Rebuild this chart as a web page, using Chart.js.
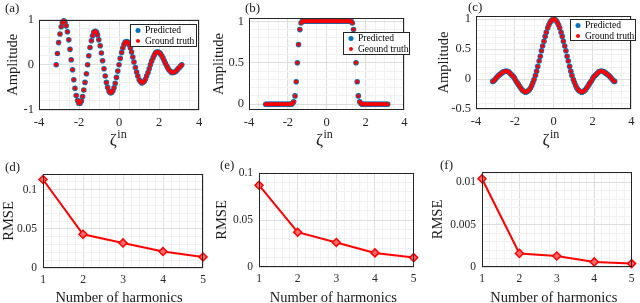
<!DOCTYPE html>
<html>
<head>
<meta charset="utf-8">
<title>Predicted vs ground truth, RMSE vs harmonics</title>
<script src="https://cdn.jsdelivr.net/npm/chart.js"></script>
<style>
  body { margin: 0; background: #fff; }
  #fig { position: relative; width: 640px; height: 303px; overflow: hidden; }
  #fig canvas { position: absolute; }
</style>
</head>
<body>
<div id="fig">
  <canvas id="pa"></canvas>
  <canvas id="pb"></canvas>
  <canvas id="pc"></canvas>
  <canvas id="pd"></canvas>
  <canvas id="pe"></canvas>
  <canvas id="pf"></canvas>
</div>
<script>
// sample positions on the zeta axis (shared by the three top panels)
var zeta = [-3.14,-3.08,-3.02,-2.95,-2.89,-2.83,-2.76,-2.70,-2.64,-2.58,
  -2.51,-2.45,-2.39,-2.32,-2.26,-2.20,-2.14,-2.07,-2.01,-1.95,
  -1.88,-1.82,-1.76,-1.70,-1.63,-1.57,-1.51,-1.45,-1.38,-1.32,
  -1.26,-1.19,-1.13,-1.07,-1.01,-0.94,-0.88,-0.82,-0.75,-0.69,
  -0.63,-0.57,-0.50,-0.44,-0.38,-0.31,-0.25,-0.19,-0.13,-0.06,
  0,
  0.06,0.13,0.19,0.25,0.31,0.38,0.44,0.50,0.57,0.63,
  0.69,0.75,0.82,0.88,0.94,1.01,1.07,1.13,1.19,1.26,
  1.32,1.38,1.45,1.51,1.57,1.63,1.70,1.76,1.82,1.88,
  1.95,2.01,2.07,2.14,2.20,2.26,2.32,2.39,2.45,2.51,
  2.58,2.64,2.70,2.76,2.83,2.89,2.95,3.02,3.08,3.14];

// (a) decaying oscillation
var ampA = [0,0.25,0.49,0.68,0.84,0.93,0.97,0.95,0.86,0.73,
  0.55,0.34,0.11,-0.11,-0.33,-0.52,-0.68,-0.79,-0.85,-0.85,
  -0.80,-0.70,-0.56,-0.39,-0.20,0,0.20,0.38,0.53,0.64,
  0.72,0.74,0.72,0.66,0.55,0.42,0.26,0.09,-0.09,-0.25,
  -0.39,-0.50,-0.58,-0.62,-0.62,-0.58,-0.51,-0.41,-0.28,-0.14,
  0,
  0.14,0.27,0.37,0.45,0.50,0.51,0.50,0.45,0.37,0.28,
  0.17,0.06,-0.06,-0.16,-0.25,-0.33,-0.37,-0.40,-0.39,-0.37,
  -0.32,-0.25,-0.17,-0.09,0,0.08,0.15,0.21,0.26,0.28,
  0.28,0.27,0.24,0.20,0.15,0.09,0.03,-0.03,-0.08,-0.12,
  -0.15,-0.17,-0.17,-0.16,-0.15,-0.12,-0.09,-0.06,-0.03,0];

// (b) flat-top pulse
var ampB = [0,0,0,0,0,0,0,0,0,0,
  0,0,0,0,0,0,0,0,0,0,
  0,0,0.01,0.03,0.10,0.27,0.50,0.72,0.90,0.98,
  1,1,1,1,1,1,1,1,1,1,
  1,1,1,1,1,1,1,1,1,1,
  1,
  1,1,1,1,1,1,1,1,1,1,
  1,1,1,1,1,1,1,1,1,1,
  0.98,0.90,0.72,0.50,0.27,0.10,0.03,0.01,0,0,
  0,0,0,0,0,0,0,0,0,0,
  0,0,0,0,0,0,0,0,0,0];

// (c) sinc-like
var ampC = [-0.04,-0.03,-0.01,0.02,0.04,0.06,0.08,0.09,0.11,0.12,
  0.13,0.13,0.13,0.12,0.10,0.08,0.06,0.04,0.01,-0.03,
  -0.06,-0.09,-0.12,-0.15,-0.18,-0.20,-0.21,-0.22,-0.21,-0.20,
  -0.18,-0.15,-0.11,-0.06,-0.01,0.06,0.13,0.21,0.30,0.38,
  0.47,0.55,0.63,0.71,0.78,0.85,0.90,0.94,0.97,0.99,
  1,
  0.99,0.97,0.94,0.90,0.85,0.78,0.71,0.63,0.55,0.47,
  0.38,0.30,0.21,0.13,0.06,-0.01,-0.06,-0.11,-0.15,-0.18,
  -0.20,-0.21,-0.22,-0.21,-0.20,-0.18,-0.15,-0.12,-0.09,-0.06,
  -0.03,0.01,0.04,0.06,0.08,0.10,0.12,0.13,0.13,0.13,
  0.12,0.11,0.09,0.08,0.06,0.04,0.02,-0.01,-0.03,-0.04];

var harmonics = [1, 2, 3, 4, 5];
var rmseD = [0.113, 0.043, 0.032, 0.021, 0.014];
var rmseE = [0.087, 0.037, 0.026, 0.015, 0.010];
var rmseF = [0.0104, 0.0016, 0.0013, 0.0006, 0.0004];

var xTicksTop = [-4, -2, 0, 2, 4];
var yTicksA = [-1, 0, 1];
var yTicksB = [0, 0.5, 1];
var yTicksC = [-0.5, 0, 0.5, 1];
var xTicksBot = [1, 2, 3, 4, 5];
var yTicksD = [0, 0.05, 0.1];
var yTicksE = [0, 0.05, 0.1];
var yTicksF = [0, 0.005, 0.01];

var SERIF = '"Liberation Serif", "Times New Roman", serif';
var BLUE = '#0072BD', RED = '#FF0000';

function isMajor(major, v) {
  return major.some(function (m) { return Math.abs(m - v) < 1e-9; });
}

function axis(major, minor, min, max, size, pad, fs, title, titlePad) {
  return {
    type: 'linear', min: min, max: max,
    afterBuildTicks: function (s) {
      var t = [];
      for (var k = Math.ceil(min / minor - 1e-9); k * minor <= max + 1e-9; k++) {
        t.push({ value: +(k * minor).toFixed(8) });
      }
      s.ticks = t;
    },
    afterFit: function (s) {
      if (s.isHorizontal()) s.height = size; else s.width = size;
    },
    grid: {
      drawTicks: false, lineWidth: 1,
      color: function (c) { return c.tick && isMajor(major, c.tick.value) ? '#dedede' : '#f1f1f1'; }
    },
    border: { display: false },
    ticks: {
      autoSkip: false, maxRotation: 0, padding: pad, color: '#262626',
      font: { family: SERIF, size: fs },
      callback: function (v) { return isMajor(major, v) ? String(+v.toFixed(6)) : ''; }
    },
    title: title ? { display: true, text: title, color: '#1a1a1a',
      font: { family: SERIF, size: 14.5 }, padding: { top: titlePad, bottom: 0 } } : { display: false }
  };
}

var decor = {
  id: 'decor',
  afterDraw: function (chart, args, o) {
    var ctx = chart.ctx, a = chart.chartArea;
    ctx.save();
    ctx.strokeStyle = '#262626';
    ctx.lineWidth = 1;
    var x0 = Math.round(a.left) + 0.5, y0 = Math.round(a.top) + 0.5;
    ctx.strokeRect(x0, y0, Math.round(a.right) - 0.5 - x0, Math.round(a.bottom) - 0.5 - y0);

    ctx.fillStyle = '#1a1a1a';
    ctx.textBaseline = 'alphabetic';
    ctx.textAlign = 'left';
    ctx.font = '13px ' + SERIF;
    ctx.fillText(o.letter, o.lx, o.ly);

    var cx = (a.left + a.right) / 2 + o.dx;
    if (o.sup) {
      ctx.font = '17px ' + SERIF;
      var w1 = ctx.measureText(o.xt).width;
      ctx.font = '12px ' + SERIF;
      var w2 = ctx.measureText(o.sup).width;
      var sx = cx - (w1 + w2) / 2;
      ctx.font = '17px ' + SERIF;
      ctx.fillText(o.xt, sx, o.xy);
      ctx.font = '12px ' + SERIF;
      ctx.fillText(o.sup, sx + w1 + 0.5, o.xy - 6.7);
    } else {
      ctx.font = '14.5px ' + SERIF;
      ctx.textAlign = 'center';
      ctx.fillText(o.xt, cx, o.xy);
    }

    if (o.legend) {
      var L = o.legend, ds = chart.data.datasets;
      ctx.fillStyle = '#fff';
      ctx.fillRect(L[0], L[1], L[2], L[3]);
      ctx.strokeStyle = '#262626';
      ctx.strokeRect(L[0] + 0.5, L[1] + 0.5, L[2] - 1, L[3] - 1);
      ctx.font = '9.5px ' + SERIF;
      ctx.textAlign = 'left';
      ctx.textBaseline = 'middle';
      [ds[1], ds[0]].forEach(function (d, k) {
        var y = L[1] + 6.5 + k * 10.5;
        ctx.fillStyle = d.pointBackgroundColor;
        ctx.beginPath();
        ctx.arc(L[0] + 8, y, Math.min(d.pointRadius, 2.5), 0, 2 * Math.PI);
        ctx.fill();
        ctx.fillStyle = '#000';
        ctx.fillText(d.label, L[0] + 15, y);
      });
    }
    ctx.restore();
  }
};

function pts(xs, ys) {
  return xs.map(function (x, i) { return { x: x, y: ys[i] }; });
}

function scatterSets(ys, truthLabel) {
  return [
    { label: truthLabel, data: pts(zeta, ys), pointRadius: 2.0, pointBorderWidth: 0,
      pointBackgroundColor: RED, showLine: false, clip: false },
    { label: 'Predicted', data: pts(zeta, ys), pointRadius: 2.8, pointBorderWidth: 0,
      pointBackgroundColor: BLUE, showLine: false, clip: false }
  ];
}

function lineSets(ys) {
  return [{ label: 'RMSE', data: pts(harmonics, ys), borderColor: RED, borderWidth: 2,
    pointStyle: 'rectRot', pointRadius: 4, pointBackgroundColor: '#ff6a6a',
    pointBorderColor: RED, pointBorderWidth: 1.5, tension: 0, clip: false }];
}

var panels = [
  { id: 'pa', left: 0, top: 0, w: 213, h: 150, type: 'scatter', sets: scatterSets(ampA, 'Ground truth'),
    padTop: 19.5, padRight: 14,
    x: axis(xTicksTop, 0.5, -4, 4, 40, 5.5, 12.5),
    y: axis(yTicksA, 0.2, -1, 1, 39, 5, 12.5, 'Amplitude', 4),
    decor: { letter: '(a)', lx: 5, ly: 12, xt: 'ζ', sup: 'in', xy: 145, dx: -1, legend: [130, 24, 67, 23] } },
  { id: 'pb', left: 206, top: 0, w: 207, h: 150, type: 'scatter', sets: scatterSets(ampB, 'Geound truth'),
    padTop: 18, padRight: 4,
    x: axis(xTicksTop, 0.5, -4, 4, 40, 5.5, 12.5),
    y: axis(yTicksB, 0.1, -0.07, 1.04, 43, 5, 12.5, 'Amplitude', 4),
    decor: { letter: '(b)', lx: 39, ly: 12, xt: 'ζ', sup: 'in', xy: 145, dx: -2.5, legend: [137, 32, 67, 23] } },
  { id: 'pc', left: 431, top: 0, w: 209, h: 150, type: 'scatter', sets: scatterSets(ampC, 'Ground truth'),
    padTop: 16, padRight: 6,
    x: axis(xTicksTop, 0.5, -4, 4, 41, 5.5, 12.5),
    y: axis(yTicksC, 0.1, -0.5, 1.05, 45, 5, 12.5, 'Amplitude', 4),
    decor: { letter: '(c)', lx: 37, ly: 11, xt: 'ζ', sup: 'in', xy: 145, dx: -3, legend: [139, 19, 66, 22] } },
  { id: 'pd', left: 0, top: 150, w: 213, h: 153, type: 'line', sets: lineSets(rmseD),
    padTop: 24, padRight: 10,
    x: axis(xTicksBot, 0.2, 1, 5, 35, 5.5, 11.5),
    y: axis(yTicksD, 0.01, 0, 0.12, 43, 6, 11.5, 'RMSE', 0),
    decor: { letter: '(d)', lx: 5, ly: 20.5, xt: 'Number of harmonics', xy: 152, dx: -4 } },
  { id: 'pe', left: 209, top: 150, w: 213, h: 153, type: 'line', sets: lineSets(rmseE),
    padTop: 23, padRight: 4,
    x: axis(xTicksBot, 0.2, 1, 5, 36, 5.5, 11.5),
    y: axis(yTicksE, 0.01, 0, 0.1, 50, 6, 11.5, 'RMSE', 4),
    decor: { letter: '(e)', lx: 11, ly: 19, xt: 'Number of harmonics', xy: 152, dx: -3 } },
  { id: 'pf', left: 425, top: 150, w: 215, h: 153, type: 'line', sets: lineSets(rmseF),
    padTop: 22, padRight: 4,
    x: axis(xTicksBot, 0.2, 1, 5, 36, 5.5, 11.5),
    y: axis(yTicksF, 0.001, 0, 0.0112, 57, 6, 11.5, 'RMSE', 4),
    decor: { letter: '(f)', lx: 15, ly: 18.5, xt: 'Number of harmonics', xy: 152, dx: -3 } }
];

panels.forEach(function (p) {
  var cv = document.getElementById(p.id);
  cv.width = p.w;
  cv.height = p.h;
  cv.style.left = p.left + 'px';
  cv.style.top = p.top + 'px';
  new Chart(cv, {
    type: p.type,
    data: { datasets: p.sets },
    options: {
      responsive: false,
      animation: false,
      events: [],
      layout: { padding: { left: 0, top: p.padTop, right: p.padRight, bottom: 0 } },
      scales: { x: p.x, y: p.y },
      plugins: { legend: { display: false }, tooltip: { enabled: false }, decor: p.decor }
    },
    plugins: [decor]
  });
});
</script>
</body>
</html>
